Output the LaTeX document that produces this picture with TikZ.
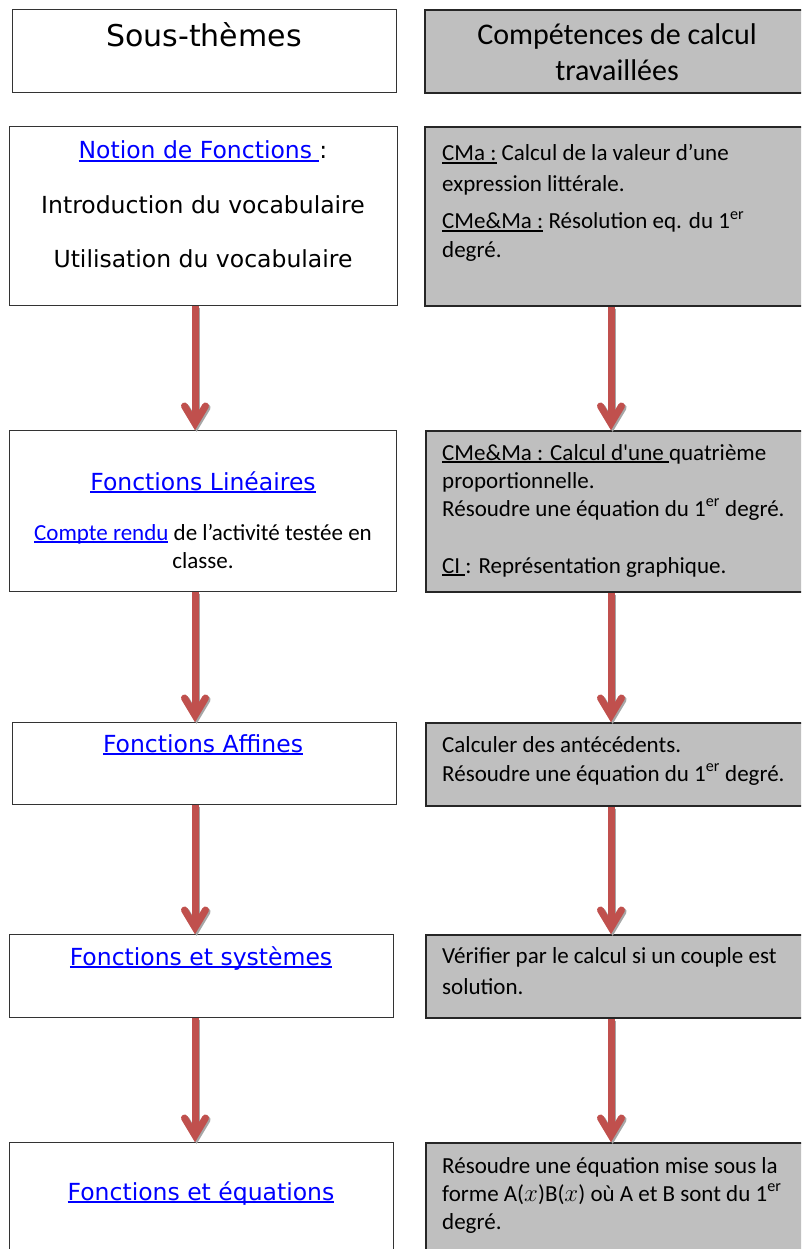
\documentclass[tikz,border=0pt]{standalone}
\usepackage{fontspec}
\setmainfont{Carlito}
\newfontfamily\verd{DejaVu Sans}
\usetikzlibrary{calc}
\definecolor{linkblue}{HTML}{0000FF}
\definecolor{arrowred}{HTML}{C0504D}
\definecolor{boxgray}{HTML}{BFBFBF}
\definecolor{shadowgray}{HTML}{A6A6A6}
\newsavebox\ulbox
\newcommand\ulx[1]{\leavevmode\sbox\ulbox{#1}\rlap{\rule[-0.12em]{\wd\ulbox}{0.06em}}\usebox\ulbox}
\newcommand\lnk[1]{\textcolor{linkblue}{\ulx{#1}}}
\newcommand\redarrow[3]{%
  \foreach \ofs/\col in {1.6/shadowgray,0/arrowred}{%
    \draw[arrowline, draw=\col] ($(#1.south -| #3)+(\ofs,\ofs)$) -- ($(#2.north -| #3)+(\ofs,\ofs-9)$);
    \draw[arrowline, draw=\col, line join=miter, line cap=round]
      ($(#2.north -| #3)+(\ofs-10.5,\ofs-24)$) -- ($(#2.north -| #3)+(\ofs,\ofs-6.5)$) -- ($(#2.north -| #3)+(\ofs+10.5,\ofs-24)$);
  }}
\begin{document}
\begin{tikzpicture}[x=1pt,y=-1pt,
  lbox/.style={draw=black!80, line width=1.3pt, fill=white, inner sep=0pt, anchor=north west},
  rbox/.style={draw=black!85, line width=2pt, fill=boxgray, inner sep=0pt, anchor=north west},
  arrowline/.style={line width=7pt},
  vtxt/.style={font=\verd\fontsize{23.5}{28}\selectfont, inner sep=0pt, anchor=base},
  vhead/.style={font=\verd\fontsize{30}{36}\selectfont, inner sep=0pt, anchor=base},
  chead/.style={font=\fontsize{30}{36}\selectfont, inner sep=0pt, anchor=base},
  ctxt/.style={font=\fontsize{23}{28}\selectfont, inner sep=0pt, anchor=base west},
  cctxt/.style={font=\fontsize{23}{28}\selectfont, inner sep=0pt, anchor=base}]
\useasboundingbox (0,0) rectangle (801,1249);
\clip (0,0) rectangle (801,1249);
\fill[white] (0,0) rectangle (801,1249);

% arrow axes
\coordinate (axL) at (195,0);
\coordinate (axR) at (611,0);

% left column boxes
\node[lbox, minimum width=384pt, minimum height=83pt]  (H1) at (12,9) {};
\node[lbox, minimum width=388pt, minimum height=179pt] (L1) at (9,126) {};
\node[lbox, minimum width=387pt, minimum height=161pt] (L2) at (9,430) {};
\node[lbox, minimum width=384pt, minimum height=82pt]  (L3) at (12,722) {};
\node[lbox, minimum width=384pt, minimum height=83pt]  (L4) at (9,934) {};
\node[lbox, minimum width=384pt, minimum height=140pt] (L5) at (9,1142) {};

% right column boxes
\node[rbox, minimum width=392pt, minimum height=83pt]  (H2) at (424,9) {};
\node[rbox, minimum width=392pt, minimum height=179pt] (R1) at (424,126) {};
\node[rbox, minimum width=392pt, minimum height=161pt] (R2) at (425,430) {};
\node[rbox, minimum width=392pt, minimum height=83pt]  (R3) at (425,722) {};
\node[rbox, minimum width=392pt, minimum height=83pt]  (R4) at (425,934) {};
\node[rbox, minimum width=392pt, minimum height=140pt] (R5) at (425,1142) {};

% headers
\node[vhead] (th1) at (204,47) {Sous-thèmes};
\node[chead] (th2) at (617,45) {Compétences de calcul};
\node[chead] (th3) at (617,81) {travaillées};

% left texts
\node[vtxt] (tl1a) at (203,159) {\lnk{Notion de Fonctions }:};
\node[vtxt] (tl1b) at (203,214) {Introduction du vocabulaire};
\node[vtxt] (tl1c) at (203,267) {Utilisation du vocabulaire};
\node[vtxt] (tl2a) at (203,490) {\lnk{Fonctions Linéaires}};
\node[cctxt] (tl2b) at (203,540) {\lnk{Compte rendu} de l’activité testée en};
\node[cctxt] (tl2c) at (203,568) {classe.};
\node[vtxt] (tl3) at (203,752) {\lnk{Fonctions Affines}};
\node[vtxt] (tl4) at (201,965) {\lnk{Fonctions et systèmes}};
\node[vtxt] (tl5) at (201,1200) {\lnk{Fonctions et équations}};

% right texts
\node[ctxt] (tr1a) at (442,161) {\ulx{CMa :} Calcul de la valeur d’une};
\node[ctxt] (tr1b) at (442,192) {expression littérale.};
\node[ctxt] (tr1c) at (442,229) {\ulx{CMe\&Ma :} Résolution eq. du 1\textsuperscript{er}};
\node[ctxt] (tr1d) at (442,258) {degré.};
\node[ctxt] (tr2a) at (442,460) {\ulx{CMe\&Ma : Calcul d\textquotesingle une }quatrième};
\node[ctxt] (tr2b) at (442,488) {proportionnelle.};
\node[ctxt] (tr2c) at (442,516) {Résoudre une équation du 1\textsuperscript{er} degré.};
\node[ctxt] (tr2d) at (442,573) {\ulx{CI }: Représentation graphique.};
\node[ctxt] (tr3a) at (442,752) {Calculer des antécédents.};
\node[ctxt] (tr3b) at (442,781) {Résoudre une équation du 1\textsuperscript{er} degré.};
\node[ctxt] (tr4a) at (442,963) {Vérifier par le calcul si un couple est};
\node[ctxt] (tr4b) at (442,994) {solution.};
\node[ctxt] (tr5a) at (442,1173) {Résoudre une équation mise sous la};
\node[ctxt] (tr5b) at (442,1201) {forme A($x$)B($x$) où A et B sont du 1\textsuperscript{er}};
\node[ctxt] (tr5c) at (442,1229) {degré.};

% arrows
\redarrow{L1}{L2}{axL}
\redarrow{L2}{L3}{axL}
\redarrow{L3}{L4}{axL}
\redarrow{L4}{L5}{axL}
\redarrow{R1}{R2}{axR}
\redarrow{R2}{R3}{axR}
\redarrow{R3}{R4}{axR}
\redarrow{R4}{R5}{axR}
\end{tikzpicture}
\end{document}
